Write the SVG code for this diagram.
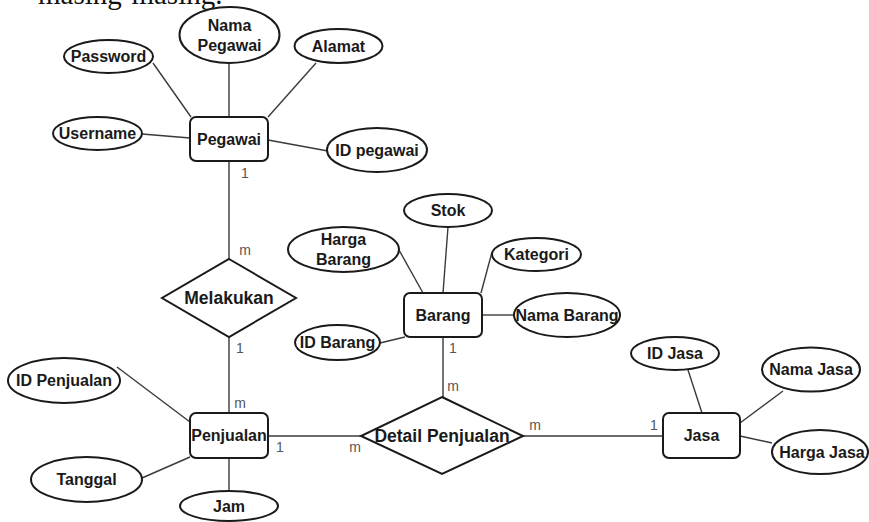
<svg xmlns="http://www.w3.org/2000/svg" width="869" height="522" viewBox="0 0 869 522">
<style>
  .ent{fill:#fff;stroke:#1a1a1a;stroke-width:2}
  .att{fill:#fff;stroke:#1a1a1a;stroke-width:2}
  .rel{fill:#fff;stroke:#1a1a1a;stroke-width:2}
  .con line{stroke:#3a3a3a;stroke-width:1.4}
  text{font-family:"Liberation Sans",Arial,sans-serif;fill:#1a1a1a}
  .t{font-size:16px;font-weight:bold;text-anchor:middle}
  .r{font-size:17.5px;font-weight:bold;text-anchor:middle}
  .c{font-size:14px;fill:#555;text-anchor:middle}
  .doc{font-family:"Liberation Serif","Times New Roman",serif;font-size:29px;fill:#111}
</style>
<rect width="869" height="522" fill="#fff"/>
<text class="doc" x="38" y="4">masing-masing.</text>

<g id="connectors" class="con">
  <line x1="153" y1="63" x2="191" y2="117"/>
  <line x1="229" y1="63" x2="229" y2="117"/>
  <line x1="316" y1="63" x2="268" y2="117"/>
  <line x1="142" y1="134" x2="190" y2="138"/>
  <line x1="268" y1="140" x2="328" y2="151"/>
  <line x1="229" y1="161" x2="229" y2="259"/>
  <line x1="229" y1="337" x2="229" y2="413"/>
  <line x1="117" y1="367" x2="190" y2="422"/>
  <line x1="142" y1="478" x2="190" y2="457"/>
  <line x1="229" y1="458" x2="229" y2="491"/>
  <line x1="268" y1="436" x2="361" y2="436"/>
  <line x1="399" y1="250" x2="423" y2="293"/>
  <line x1="448" y1="227" x2="443" y2="293"/>
  <line x1="492" y1="252" x2="481" y2="293"/>
  <line x1="482" y1="315" x2="514" y2="315"/>
  <line x1="380" y1="343" x2="405" y2="337"/>
  <line x1="443" y1="337" x2="443" y2="397"/>
  <line x1="523" y1="436" x2="663" y2="436"/>
  <line x1="688" y1="370" x2="702" y2="413"/>
  <line x1="783" y1="391" x2="740" y2="423"/>
  <line x1="740" y1="436" x2="772" y2="443"/>
</g>

<g id="cardinalities">
  <text class="c" x="245" y="178">1</text>
  <text class="c" x="245" y="255">m</text>
  <text class="c" x="240" y="353">1</text>
  <text class="c" x="240" y="408">m</text>
  <text class="c" x="280" y="452">1</text>
  <text class="c" x="355" y="452">m</text>
  <text class="c" x="453" y="353">1</text>
  <text class="c" x="453" y="391">m</text>
  <text class="c" x="535" y="430">m</text>
  <text class="c" x="654" y="430">1</text>
</g>

<g id="pegawai">
  <rect class="ent" x="190" y="117" width="78" height="44" rx="6"/>
  <text class="t" x="229" y="145">Pegawai</text>
</g>
<g id="nama-pegawai">
  <ellipse class="att" cx="229.5" cy="35" rx="50" ry="28"/>
  <text class="t" x="229.5" y="31">Nama</text>
  <text class="t" x="229.5" y="51">Pegawai</text>
</g>
<g id="alamat">
  <ellipse class="att" cx="338.5" cy="46" rx="44" ry="17"/>
  <text class="t" x="338.5" y="52">Alamat</text>
</g>
<g id="password">
  <ellipse class="att" cx="108.5" cy="56.5" rx="44.5" ry="16.5"/>
  <text class="t" x="108.5" y="62">Password</text>
</g>
<g id="username">
  <ellipse class="att" cx="97.5" cy="133.5" rx="44.5" ry="16.5"/>
  <text class="t" x="97.5" y="139">Username</text>
</g>
<g id="id-pegawai">
  <ellipse class="att" cx="377" cy="150" rx="50" ry="22"/>
  <text class="t" x="377" y="156">ID pegawai</text>
</g>

<g id="melakukan">
  <polygon class="rel" points="229,259 296,298 229,337 162,298"/>
  <text class="r" x="229" y="304">Melakukan</text>
</g>

<g id="penjualan">
  <rect class="ent" x="190" y="413" width="78" height="45" rx="6"/>
  <text class="t" x="229" y="441">Penjualan</text>
</g>
<g id="id-penjualan">
  <ellipse class="att" cx="64" cy="380.5" rx="56" ry="22.5"/>
  <text class="t" x="64" y="386">ID Penjualan</text>
</g>
<g id="tanggal">
  <ellipse class="att" cx="86.5" cy="479.5" rx="55.5" ry="22.5"/>
  <text class="t" x="86.5" y="485">Tanggal</text>
</g>
<g id="jam">
  <ellipse class="att" cx="229" cy="506" rx="49" ry="15"/>
  <text class="t" x="229" y="512">Jam</text>
</g>

<g id="barang">
  <rect class="ent" x="404" y="293" width="78" height="44" rx="6"/>
  <text class="t" x="443" y="321">Barang</text>
</g>
<g id="harga-barang">
  <ellipse class="att" cx="343.5" cy="249.5" rx="55.5" ry="22.5"/>
  <text class="t" x="343.5" y="245">Harga</text>
  <text class="t" x="343.5" y="265">Barang</text>
</g>
<g id="stok">
  <ellipse class="att" cx="448" cy="210.5" rx="44" ry="16.5"/>
  <text class="t" x="448" y="216">Stok</text>
</g>
<g id="kategori">
  <ellipse class="att" cx="536.5" cy="254.5" rx="44.5" ry="16.5"/>
  <text class="t" x="536.5" y="260">Kategori</text>
</g>
<g id="nama-barang">
  <ellipse class="att" cx="567" cy="315" rx="53" ry="22"/>
  <text class="t" x="567" y="321">Nama Barang</text>
</g>
<g id="id-barang">
  <ellipse class="att" cx="337.5" cy="342.5" rx="42.5" ry="17.5"/>
  <text class="t" x="337.5" y="348">ID Barang</text>
</g>

<g id="detail-penjualan">
  <polygon class="rel" points="442,397 523,436 442,474 361,436"/>
  <text class="r" x="442" y="442">Detail Penjualan</text>
</g>

<g id="jasa">
  <rect class="ent" x="663" y="413" width="77" height="45" rx="6"/>
  <text class="t" x="701.5" y="441">Jasa</text>
</g>
<g id="id-jasa">
  <ellipse class="att" cx="675" cy="353.5" rx="44" ry="16.5"/>
  <text class="t" x="675" y="359">ID Jasa</text>
</g>
<g id="nama-jasa">
  <ellipse class="att" cx="811" cy="369.5" rx="49" ry="22"/>
  <text class="t" x="811" y="375">Nama Jasa</text>
</g>
<g id="harga-jasa">
  <ellipse class="att" cx="820" cy="452" rx="48" ry="22"/>
  <text class="t" x="822" y="458">Harga Jasa</text>
</g>
</svg>
